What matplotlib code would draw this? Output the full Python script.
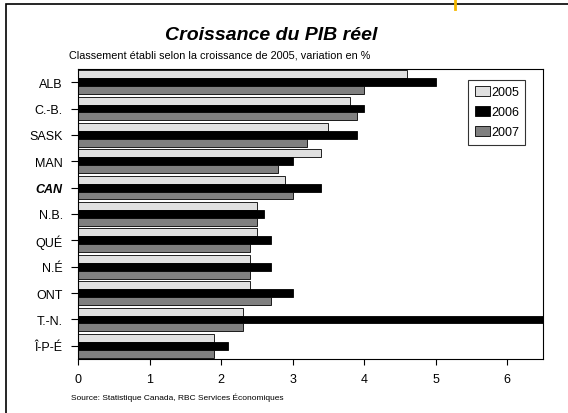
import matplotlib
matplotlib.use('Agg')
import matplotlib.pyplot as plt
from matplotlib.lines import Line2D
from matplotlib.patches import Rectangle
import numpy as np

plt.rcParams.update({
    'font.family': ['Liberation Sans Narrow', 'Liberation Sans', 'DejaVu Sans'],
    'font.size': 8,
})

provinces = ['ALB', 'C.-B.', 'SASK', 'MAN', 'CAN', 'N.B.', 'QUÉ', 'N.É', 'ONT', 'T.-N.', 'Î-P-É']
g2005 = [4.6, 3.8, 3.5, 3.4, 2.9, 2.5, 2.5, 2.4, 2.4, 2.3, 1.9]
g2006 = [5.0, 4.0, 3.9, 3.0, 3.4, 2.6, 2.7, 2.7, 3.0, 9.1, 2.1]
g2007 = [4.0, 3.9, 3.2, 2.8, 3.0, 2.5, 2.4, 2.4, 2.7, 2.3, 1.9]
years = ['2005', '2006', '2007']
colors = ['#e0e0e0', '#000000', '#808080']
xticks = [0, 1, 2, 3, 4, 5, 6]

fig = plt.figure(figsize=(5.68, 4.14), dpi=100)
ax = fig.add_axes([0.1373, 0.1304, 0.8187, 0.7006])

y = np.arange(len(provinces))
h = 0.3
for k, (vals, c, lab) in enumerate(zip([g2005, g2006, g2007], colors, years)):
    ax.barh(y + (k - 1) * h, vals, height=h, color=c, edgecolor='black',
            linewidth=0.6, label=lab)

ax.set_xlim(0, 6.5)
ax.set_ylim(10.5, -0.5)
ax.set_yticks(y)
ax.set_yticklabels(provinces, fontsize=9)
for t in ax.get_yticklabels():
    if t.get_text() == 'CAN':
        t.set_fontweight('bold')
        t.set_fontstyle('italic')
ax.set_xticks(xticks)
ax.set_xticklabels([str(v) for v in xticks], fontsize=9)
ax.tick_params(axis='y', length=5, width=0.8, pad=6)
ax.tick_params(axis='x', length=4, width=0.8, pad=6)
for s in ax.spines.values():
    s.set_linewidth(0.8)

leg = ax.legend(loc='upper right', bbox_to_anchor=(0.975, 0.985), fontsize=9,
                frameon=True, fancybox=False, edgecolor='black',
                handlelength=1.2, handleheight=0.9, handletextpad=0.1,
                labelspacing=0.6, borderpad=0.5)
leg.get_frame().set_linewidth(0.8)

fig.text(0.478, 0.915, 'Croissance du PIB réel', ha='center', va='center',
         fontsize=14, fontweight='bold', fontstyle='italic')
fig.text(0.122, 0.865, 'Classement établi selon la croissance de 2005, variation en %',
         ha='left', va='center', fontsize=7.8)
fig.text(0.125, 0.04, 'Source: Statistique Canada, RBC Services Économiques',
         ha='left', va='center', fontsize=6)

# outer frame (right and bottom edges fall outside the image)
fig.add_artist(Rectangle((6 / 568, -0.05), 1.05, 1 - 5 / 414 + 0.05,
                         transform=fig.transFigure, fill=False,
                         edgecolor='black', linewidth=1.2))
fig.add_artist(Line2D([455 / 568, 455 / 568], [1 - 10 / 414, 1.0],
                      transform=fig.transFigure, color='#f5b800', linewidth=2))

fig.savefig('out.png', dpi=100)
